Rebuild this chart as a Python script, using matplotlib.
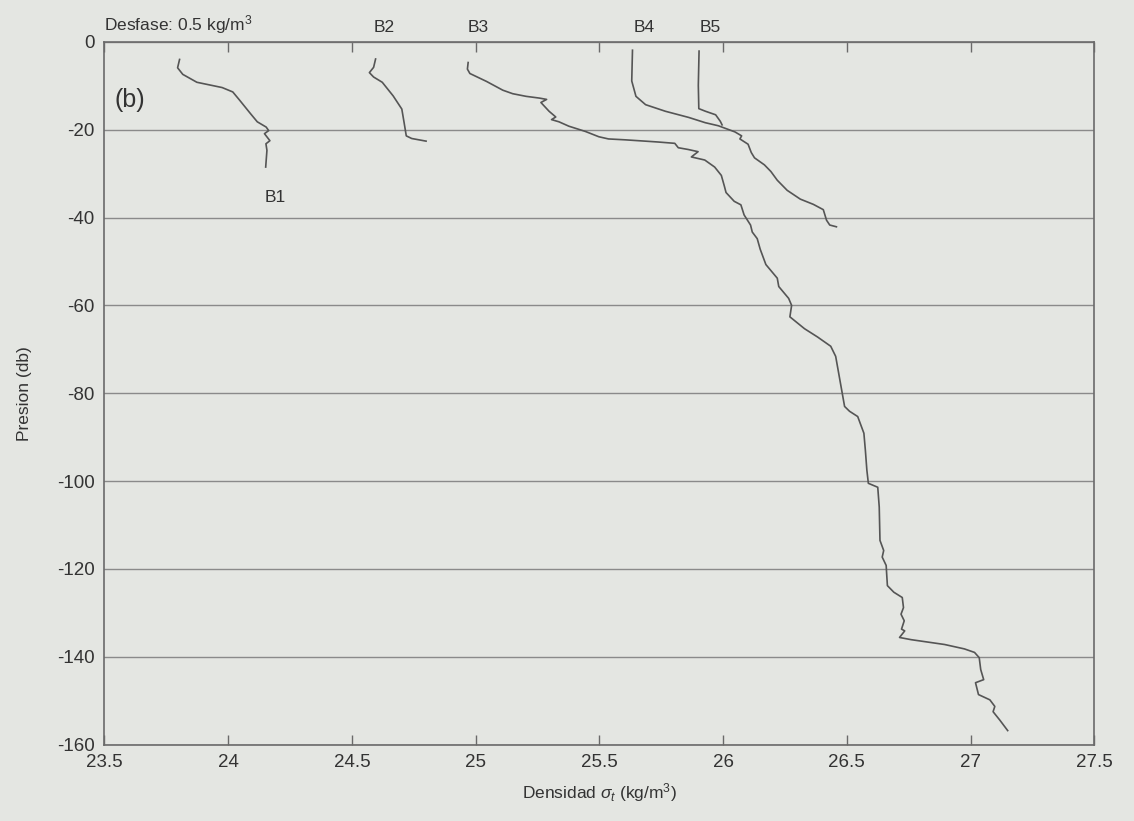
import matplotlib
matplotlib.use("Agg")
import matplotlib.pyplot as plt

# sigma-t (kg/m3) and pressure (db) per station, already offset by 0.5 kg/m3
b1_sigma = [23.804, 23.796, 23.817, 23.874, 23.976, 24.019, 24.047, 24.090, 24.118,
            24.154, 24.164, 24.147, 24.169, 24.153, 24.157, 24.152]
b1_pres = [-4.0, -5.9, -7.4, -9.2, -10.4, -11.4, -13.3, -16.3, -18.2,
           -19.4, -20.2, -20.9, -22.5, -23.2, -24.7, -28.5]

b2_sigma = [24.596, 24.588, 24.571, 24.588, 24.623, 24.667, 24.702, 24.711,
            24.720, 24.742, 24.800]
b2_pres = [-3.9, -5.8, -7.0, -8.0, -9.2, -12.3, -15.3, -18.3, -21.4, -22.0, -22.6]

b3_sigma = [24.970, 24.967, 24.977, 25.044, 25.110, 25.150, 25.204, 25.258, 25.287,
            25.264, 25.297, 25.324, 25.307, 25.337, 25.377, 25.444, 25.498, 25.537,
            25.604, 25.685, 25.738, 25.805, 25.819, 25.859, 25.899, 25.872, 25.926,
            25.966, 25.993, 26.005, 26.012, 26.045, 26.072, 26.085, 26.111, 26.118,
            26.138, 26.150, 26.173, 26.219, 26.225, 26.265, 26.277, 26.270, 26.329,
            26.382, 26.435, 26.455, 26.467, 26.479, 26.491, 26.511, 26.544, 26.569,
            26.575, 26.581, 26.587, 26.625, 26.631, 26.634, 26.649, 26.643, 26.659,
            26.661, 26.664, 26.690, 26.724, 26.729, 26.719, 26.732, 26.721, 26.734,
            26.713, 26.760, 26.895, 26.975, 27.016, 27.035, 27.041, 27.053, 27.020,
            27.032, 27.078, 27.098, 27.091, 27.118, 27.150]
b3_pres = [-4.7, -6.2, -7.2, -9.0, -11.0, -11.8, -12.4, -12.8, -13.1,
           -13.8, -15.8, -17.1, -17.7, -18.2, -19.2, -20.4, -21.6, -22.1,
           -22.3, -22.6, -22.8, -23.1, -24.1, -24.5, -25.0, -26.2, -26.9,
           -28.5, -30.4, -32.8, -34.3, -36.3, -37.1, -39.4, -41.7, -43.3,
           -44.8, -47.2, -50.7, -53.8, -55.7, -58.4, -60.0, -62.6, -65.3,
           -67.2, -69.3, -71.6, -75.4, -79.2, -83.0, -84.1, -85.3, -89.1,
           -93.0, -97.5, -100.5, -101.4, -105.9, -113.5, -115.8, -117.3, -119.2,
           -121.1, -123.8, -125.3, -126.5, -128.8, -130.3, -131.8, -133.7, -134.1,
           -135.6, -136.1, -137.2, -138.2, -139.0, -140.2, -142.9, -145.2, -145.9,
           -148.6, -149.8, -151.3, -152.5, -154.4, -156.8]

b4_sigma = [25.634, 25.631, 25.648, 25.687, 25.767, 25.861, 25.928, 25.981, 26.048,
            26.075, 26.068, 26.101, 26.114, 26.127, 26.167, 26.193, 26.219, 26.259,
            26.312, 26.365, 26.405, 26.418, 26.431, 26.458]
b4_pres = [-1.9, -8.9, -12.4, -14.3, -15.8, -17.2, -18.4, -19.1, -20.5,
           -21.4, -22.1, -23.3, -25.2, -26.4, -28.0, -29.5, -31.5, -33.8,
           -35.8, -37.0, -38.2, -40.6, -41.7, -42.1]

b5_sigma = [25.903, 25.900, 25.902, 25.929, 25.970, 25.989, 25.996]
b5_pres = [-2.1, -9.9, -15.2, -15.8, -16.6, -18.1, -18.9]

station_names = ["B2", "B3", "B4", "B5"]
station_label_x = [24.63, 25.01, 25.68, 25.95]

xticks = [23.5, 24, 24.5, 25, 25.5, 26, 26.5, 27, 27.5]
xtick_labels = ["23.5", "24", "24.5", "25", "25.5", "26", "26.5", "27", "27.5"]
yticks = [0, -20, -40, -60, -80, -100, -120, -140, -160]

bg = "#e4e6e2"
ink = "#333333"
line_col = "#555555"

plt.rcParams["font.family"] = ["Liberation Sans", "DejaVu Sans"]
plt.rcParams["mathtext.fontset"] = "custom"
plt.rcParams["mathtext.rm"] = "Liberation Sans"
plt.rcParams["mathtext.it"] = "Liberation Sans:italic"
plt.rcParams["axes.unicode_minus"] = False

fig = plt.figure(figsize=(11.34, 8.21), dpi=100, facecolor=bg)
ax = fig.add_axes([0.092, 0.093, 0.873, 0.856], facecolor=bg)

for xs, ys in [(b1_sigma, b1_pres), (b2_sigma, b2_pres), (b3_sigma, b3_pres),
               (b4_sigma, b4_pres), (b5_sigma, b5_pres)]:
    ax.plot(xs, ys, color=line_col, linewidth=1.2, zorder=3)

ax.set_xlim(23.5, 27.5)
ax.set_ylim(-160, 0)
ax.set_xticks(xticks)
ax.set_xticklabels(xtick_labels)
ax.set_yticks(yticks)

# horizontal grid only
ax.yaxis.grid(True, color="#8a8a8a", linewidth=1.0)
ax.xaxis.grid(False)

ax.tick_params(axis="x", direction="in", top=True, length=7, width=1.0,
               color="#6a6a6a", labelsize=13.5, labelcolor=ink, pad=7)
ax.tick_params(axis="y", direction="in", right=True, length=0,
               labelsize=13.5, labelcolor=ink, pad=7)
for sp in ax.spines.values():
    sp.set_color("#6a6a6a")
    sp.set_linewidth(1.2)

ax.set_xlabel(r"Densidad $\sigma_t$ (kg/m$^3$)", fontsize=12.5, color=ink)
ax.xaxis.set_label_coords(0.5, -0.052)
ax.set_ylabel("Presion (db)", fontsize=12.5, color=ink)
ax.yaxis.set_label_coords(-0.073, 0.5)

# station labels above the frame
for name, xpos in zip(station_names, station_label_x):
    ax.text(xpos, 1.01, name, transform=ax.get_xaxis_transform(),
            ha="center", va="bottom", fontsize=12.5, color=ink)
ax.text(23.5, 1.008, r"Desfase: 0.5 kg/m$^3$", transform=ax.get_xaxis_transform(),
        ha="left", va="bottom", fontsize=12.5, color=ink)
ax.text(24.19, -35.5, "B1", ha="center", va="center", fontsize=12.5, color=ink)
ax.text(23.54, -13.3, "(b)", ha="left", va="center", fontsize=18, color=ink)

fig.savefig("out.png", dpi=100, facecolor=bg)
